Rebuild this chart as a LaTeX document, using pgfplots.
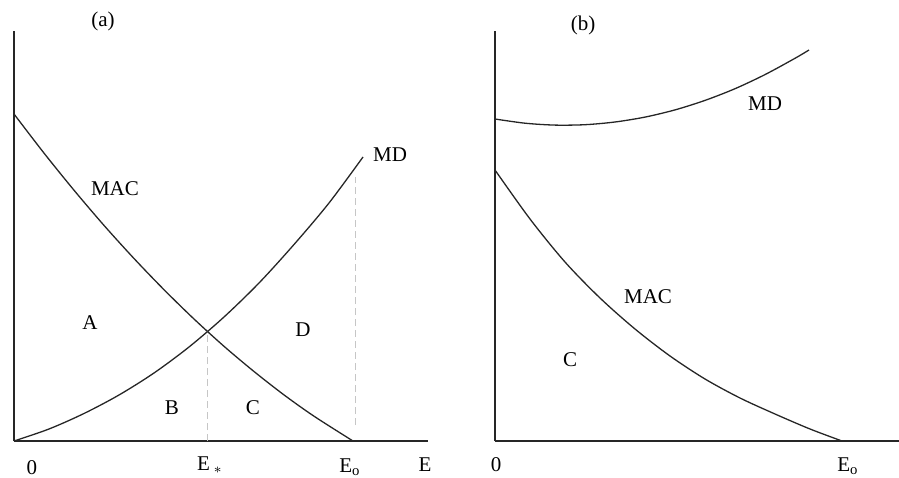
\documentclass[border=0pt]{standalone}
\usepackage{pgfplots}
\pgfplotsset{compat=1.18}
\usepackage{fontspec}
\setmainfont{Liberation Serif}
\tikzset{lab/.style={font=\fontsize{10.5}{12}\selectfont, inner sep=0pt}}
\pgfplotsset{
 panel/.style={x=0.5pt,y=0.5pt, xmin=0, ymin=0, ymax=410, axis lines=left,
   axis line style={-, line width=0.8pt, black!85}, xtick=\empty, ytick=\empty,
   clip=false, anchor=south west},
 curve/.style={black!85, line width=0.65pt, smooth, no markers},
 guide/.style={gray!45, line width=0.45pt, dash pattern=on 3.5pt off 2pt, no markers},
}
\begin{document}
\begin{tikzpicture}[font=\fontsize{10.5}{12}\selectfont]
\useasboundingbox (0,0) rectangle (449.5pt,238.5pt);
\begin{axis}[panel, xmax=414, at={(7pt,18pt)}]
\addplot[curve] coordinates {(0,327) (30,287.9) (60,250.8) (90,215.6) (120,182.5) (150,151.3) (180,122.0) (210,94.7) (240,69.5) (270,46.1) (300,24.8) (339,0)};
\addplot[curve] coordinates {(0,0) (35,12) (70,27.5) (105,46) (140,68) (175,94) (210,124) (245,158) (280,196.5) (315,238) (349,284)};
\addplot[guide] coordinates {(193,0) (193,110)};
\addplot[guide] coordinates {(341,16) (341,264)};
\node[lab] at (axis cs:89,420) {(a)};
\node[lab] at (axis cs:101,252) {MAC};
\node[lab] at (axis cs:376,286) {MD};
\node[lab] at (axis cs:76,118) {A};
\node[lab] at (axis cs:289,111) {D};
\node[lab] at (axis cs:158,33) {B};
\node[lab] at (axis cs:239,33) {C};
\node[lab] at (axis cs:18,-27) {0};
\node[lab] at (axis cs:196,-24) {E\,$_{*}$};
\node[lab] at (axis cs:336,-26) {E\textsubscript{o}};
\node[lab] at (axis cs:411,-24) {E};
\end{axis}
\begin{axis}[panel, xmax=404, at={(247.5pt,18pt)}]
\addplot[curve] coordinates {(0,322) (30,317.8) (60,315.9) (90,316.3) (120,319) (150,323.9) (180,331.1) (210,340.6) (240,352.3) (270,366.4) (300,382.7) (314,391)};
\addplot[curve] coordinates {(0,271) (35,222) (70,179) (105,143) (140,112) (175,85) (210,62) (245,43) (280,27) (315,12) (347,0)};
\node[lab] at (axis cs:88,416) {(b)};
\node[lab] at (axis cs:270,337) {MD};
\node[lab] at (axis cs:153,144) {MAC};
\node[lab] at (axis cs:75,81) {C};
\node[lab] at (axis cs:1,-24) {0};
\node[lab] at (axis cs:353,-25) {E\textsubscript{o}};
\end{axis}
\end{tikzpicture}
\end{document}
